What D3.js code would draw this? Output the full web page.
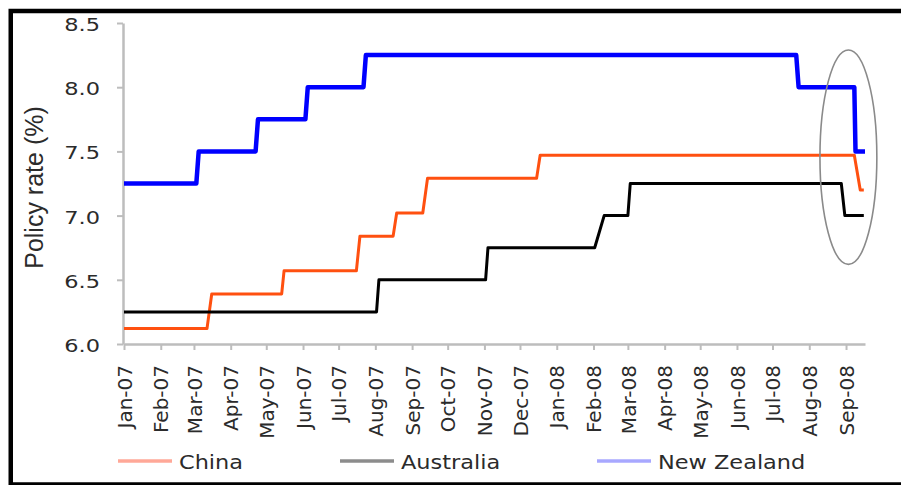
<!DOCTYPE html>
<html>
<head>
<meta charset="utf-8">
<script src="https://cdn.jsdelivr.net/npm/d3@7"></script>
<style>
  html, body { margin: 0; padding: 0; background: #fff; }
  svg { display: block; }
</style>
</head>
<body>
<svg id="chart" width="901" height="485"></svg>
<script>
// Policy rates (%), step changes: each change is a pair of observations around the move date
const seriesNames = ["China", "Australia", "New Zealand"];

const chinaDates = ["2007-01-01", "2007-03-12", "2007-03-16", "2007-05-14", "2007-05-16",
  "2007-07-16", "2007-07-19", "2007-08-16", "2007-08-19", "2007-09-10", "2007-09-14",
  "2007-12-15", "2007-12-18", "2008-09-08", "2008-09-13", "2008-09-16"];
const chinaRates = [6.12, 6.12, 6.39, 6.39, 6.57, 6.57, 6.84, 6.84, 7.02, 7.02, 7.29,
  7.29, 7.47, 7.47, 7.20, 7.20];

const australiaDates = ["2007-01-01", "2007-08-02", "2007-08-04", "2007-11-02", "2007-11-04",
  "2008-02-02", "2008-02-10", "2008-03-01", "2008-03-03", "2008-08-28", "2008-08-31",
  "2008-09-16"];
const australiaRates = [6.25, 6.25, 6.50, 6.50, 6.75, 6.75, 7.00, 7.00, 7.25, 7.25, 7.00, 7.00];

const newZealandDates = ["2007-01-01", "2007-03-03", "2007-03-05", "2007-04-22", "2007-04-24",
  "2007-06-03", "2007-06-05", "2007-07-22", "2007-07-24", "2008-07-21", "2008-07-23",
  "2008-09-08", "2008-09-09", "2008-09-17"];
const newZealandRates = [7.25, 7.25, 7.50, 7.50, 7.75, 7.75, 8.00, 8.00, 8.25, 8.25, 8.00,
  8.00, 7.50, 7.50];

const yTicks = [6.0, 6.5, 7.0, 7.5, 8.0, 8.5];
const xStart = "2007-01-01";
const xEnd = "2008-09-17";
const firstMonth = "2007-01-01";
const lastMonth = "2008-09-01";

// Highlight ellipse around the September 2008 cuts (date span and rate span)
const highlightDates = ["2008-08-10", "2008-09-27"];
const highlightRates = [6.62, 8.29];

const lineColors = ["#FF5010", "#000000", "#0000FF"];
const legendColors = ["#FFA898", "#8C8C8C", "#A8A8FF"];
const lineWidths = [3, 3, 4.5];

const parse = d3.timeParse("%Y-%m-%d");
const svg = d3.select("#chart");

// Frame
svg.append("rect")
  .attr("x", 10.75).attr("y", 11)
  .attr("width", 1000).attr("height", 473.5)
  .attr("fill", "none").attr("stroke", "#000").attr("stroke-width", 4.5);

const x = d3.scaleTime().domain([parse(xStart), parse(xEnd)]).range([124, 865]);
const y = d3.scaleLinear().domain([6, 8.5]).range([344, 23]);

const axisGrey = "#BDBDBD";
const textColor = "#2b2b2b";

// Y axis
const yAxis = svg.append("g")
  .attr("transform", "translate(123,0)")
  .call(d3.axisLeft(y).tickValues(yTicks).tickFormat(d3.format(".1f")).tickSize(6).tickSizeOuter(0));
yAxis.select(".domain").attr("stroke", axisGrey).attr("stroke-width", 2.5);
yAxis.selectAll(".tick line").attr("stroke", axisGrey).attr("stroke-width", 2);
yAxis.selectAll(".tick text")
  .attr("font-family", "'DejaVu Sans', Verdana, sans-serif")
  .attr("font-size", 18)
  .attr("fill", textColor)
  .attr("x", -23 / 1.25)
  .attr("dy", "0.42em")
  .attr("transform", "scale(1.25,1)");

// X axis (monthly ticks)
const months = d3.timeMonth.range(parse(firstMonth), d3.timeDay.offset(parse(lastMonth), 1));
const xAxis = svg.append("g")
  .attr("transform", "translate(0,344)")
  .call(d3.axisBottom(x).tickValues(months).tickFormat(d3.timeFormat("%b-%y")).tickSize(6).tickSizeOuter(0));
xAxis.select(".domain").attr("stroke", axisGrey).attr("stroke-width", 2.5);
xAxis.selectAll(".tick line").attr("stroke", axisGrey).attr("stroke-width", 2);
xAxis.selectAll(".tick text")
  .attr("font-family", "'DejaVu Sans', Verdana, sans-serif")
  .attr("font-size", 20)
  .attr("fill", textColor)
  .attr("text-anchor", "end")
  .attr("transform", "rotate(-90)")
  .attr("x", -21)
  .attr("y", 0)
  .attr("dy", "0.36em");

// Y axis title
svg.append("text")
  .attr("transform", "translate(43,187.5) rotate(-90)")
  .attr("text-anchor", "middle")
  .attr("font-family", "'Liberation Sans', Arial, sans-serif")
  .attr("font-size", 25)
  .attr("fill", textColor)
  .text("Policy rate (%)");

// Series lines
const series = [
  { dates: chinaDates, rates: chinaRates },
  { dates: australiaDates, rates: australiaRates },
  { dates: newZealandDates, rates: newZealandRates }
];
const line = d3.line().x(d => x(d[0])).y(d => y(d[1]));
series.forEach((s, i) => {
  const pts = s.dates.map((d, j) => [parse(d), s.rates[j]]);
  svg.append("path")
    .attr("d", line(pts))
    .attr("fill", "none")
    .attr("stroke", lineColors[i])
    .attr("stroke-width", lineWidths[i])
    .attr("stroke-linejoin", "round")
    .attr("stroke-linecap", "butt");
});

// Highlight ellipse
const ex0 = x(parse(highlightDates[0])), ex1 = x(parse(highlightDates[1]));
const ey0 = y(highlightRates[1]), ey1 = y(highlightRates[0]);
svg.append("ellipse")
  .attr("cx", (ex0 + ex1) / 2).attr("cy", (ey0 + ey1) / 2)
  .attr("rx", (ex1 - ex0) / 2).attr("ry", (ey1 - ey0) / 2)
  .attr("fill", "none").attr("stroke", "#8a8a8a").attr("stroke-width", 1.6);

// Legend
const legendX = [118, 340, 597];
const legend = svg.append("g");
seriesNames.forEach((name, i) => {
  legend.append("line")
    .attr("x1", legendX[i]).attr("x2", legendX[i] + 54)
    .attr("y1", 461).attr("y2", 461)
    .attr("stroke", legendColors[i]).attr("stroke-width", 3.5);
  legend.append("text")
    .attr("transform", `translate(${legendX[i] + 61},469) scale(1.15,1)`)
    .attr("font-family", "'DejaVu Sans', Verdana, sans-serif")
    .attr("font-size", 19.5)
    .attr("fill", textColor)
    .text(name);
});
</script>
</body>
</html>
